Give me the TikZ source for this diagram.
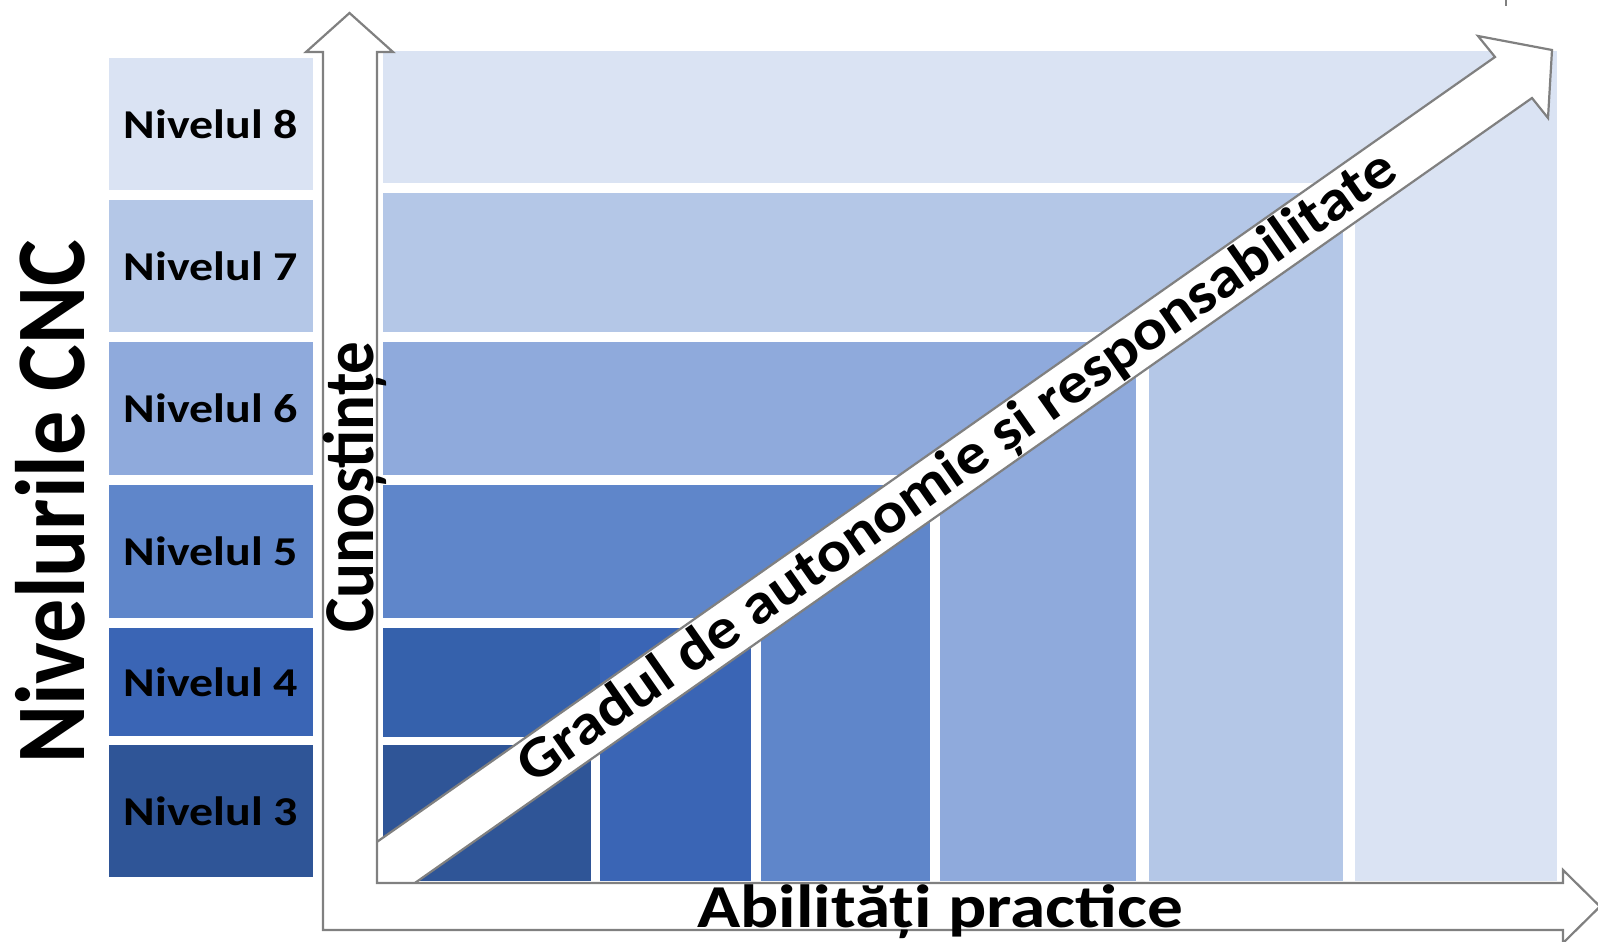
\documentclass[tikz,border=0pt]{standalone}
\usepackage{fontspec}
\setmainfont{Carlito}
\definecolor{lvA}{HTML}{2F5597}
\definecolor{lvB}{HTML}{3A65B5}
\definecolor{lvBd}{HTML}{3561AC}
\definecolor{lvC}{HTML}{5F86CA}
\definecolor{lvD}{HTML}{8FAADC}
\definecolor{lvE}{HTML}{B4C7E7}
\definecolor{lvF}{HTML}{DAE3F3}
\definecolor{axisgray}{HTML}{808080}
\newcommand\hstretch[2]{\scalebox{#1}[1]{#2}}
\newcommand\vstretch[2]{\scalebox{1}[#1]{#2}}
\begin{document}
\begin{tikzpicture}[x=1pt,y=-1pt,
  lbox/.style={draw=none, minimum width=204pt, inner sep=0pt, text=black,
     font=\fontsize{41}{41}\selectfont\bfseries},
  gap/.style={fill=white},
  axisline/.style={draw=axisgray, fill=white, line width=2.2pt, line join=miter},
  axislabel/.style={inner sep=0pt, text=black, font=\fontsize{61}{61}\selectfont\bfseries},
  ylabel/.style={inner sep=0pt, text=black, font=\fontsize{65}{65}\selectfont\bfseries},
  title/.style={inner sep=0pt, text=black, font=\fontsize{88}{88}\selectfont\bfseries},
  diaglabel/.style={inner sep=0pt, text=black, font=\fontsize{58}{58}\selectfont\bfseries}]
\useasboundingbox (0,0) rectangle (1598,942);
\fill[white] (0,0) rectangle (1598,942);

% left column of levels
\node[lbox, fill=lvF, minimum height=132pt] (l8) at (211,124) {\hstretch{1.17}{Nivelul 8}};
\node[lbox, fill=lvE, minimum height=132pt] (l7) at (211,266) {\hstretch{1.17}{Nivelul 7}};
\node[lbox, fill=lvD, minimum height=133pt] (l6) at (211,408.5) {\hstretch{1.17}{Nivelul 6}};
\node[lbox, fill=lvC, minimum height=133pt] (l5) at (211,551.5) {\hstretch{1.17}{Nivelul 5}};
\node[lbox, fill=lvB, minimum height=108pt] (l4) at (211,682) {\hstretch{1.17}{Nivelul 4}};
\node[lbox, fill=lvA, minimum height=132pt] (l3) at (211,811) {\hstretch{1.17}{Nivelul 3}};

% main nested rectangles
\fill[lvF] (383,51) rectangle (1557,881);
\fill[gap] (376,183) rectangle (1355,883);
\fill[lvE] (383,193) rectangle (1343,881);
\fill[gap] (376,332) rectangle (1149,883);
\fill[lvD] (383,342) rectangle (1136,881);
\fill[gap] (376,475) rectangle (940,883);
\fill[lvC] (383,485) rectangle (930,881);
\fill[gap] (376,618) rectangle (761,883);
\fill[lvB] (383,628) rectangle (751,881);
\fill[lvBd] (383,628) rectangle (600,737);
\fill[gap] (376,737) rectangle (600,883);
\fill[lvA] (383,745) rectangle (591,881);

% diagonal arrow
\draw[axisline] (354,858) -- (1495,57) -- (1478,36) -- (1552,50) -- (1548,118) -- (1532,98) -- (385,904) -- cycle;

% L-shaped axis arrow
\draw[axisline] (349.5,13) -- (393,52) -- (377,52) -- (377,883) -- (1563,883) -- (1563,870)
   -- (1600,906.5) -- (1563,943) -- (1563,930) -- (323,930) -- (323,52) -- (306,52) -- cycle;

% small tick at top
\draw[axisgray, line width=1.2pt] (1506,0) -- (1506,6);

% labels
\node[axislabel, anchor=base] (xlab) at (940,927) {\hstretch{1.17}{Abilități practice}};
\node[ylabel, rotate=90, anchor=base] (ylab) at (373,487) {\vstretch{1.1}{Cunoștințe}};
\node[title, rotate=90, anchor=base] (ttl) at (84,502) {\vstretch{1.12}{Nivelurile CNC}};
\node[diaglabel, rotate=35.06] (diag) at (958,469) {\hstretch{1.1}{Gradul de autonomie și responsabilitate}};
\end{tikzpicture}
\end{document}
